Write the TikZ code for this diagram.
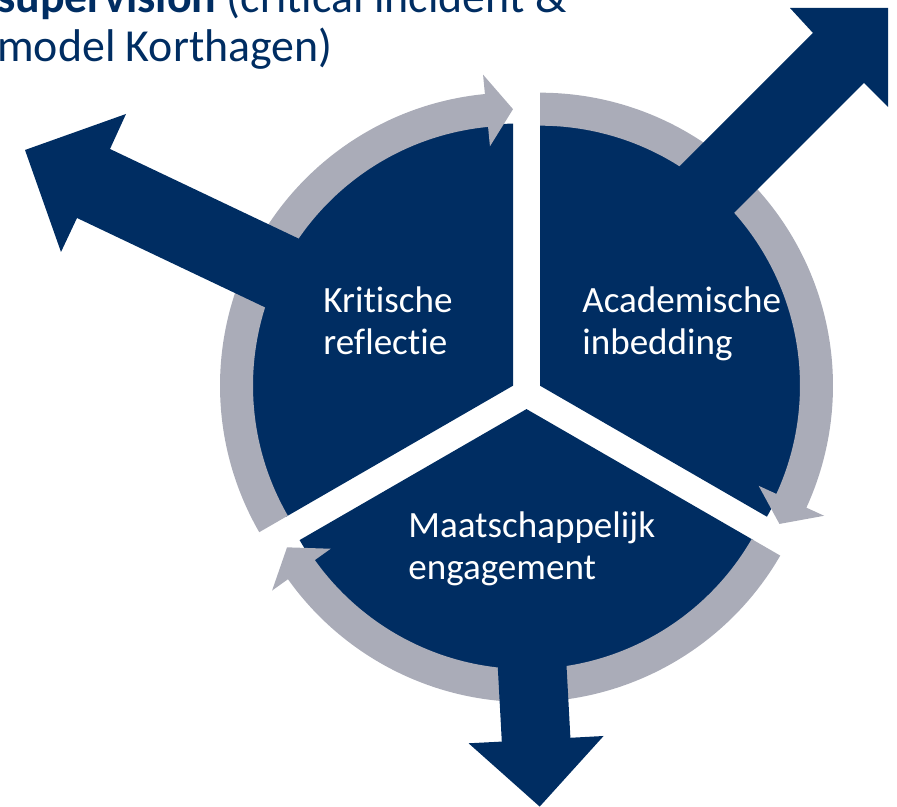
\documentclass[tikz,border=0pt]{standalone}
\usepackage{fontspec}
\setmainfont{Carlito}[Ligatures=NoCommon]
\usetikzlibrary{calc}
\definecolor{navy}{RGB}{0,45,98}
\definecolor{ringgray}{RGB}{170,172,184}
\def\rsec{262}
\def\rin{260}
\def\rout{293}
\def\rmid{276.5}
\def\headin{240.5}
\def\headout{312.5}
\def\sector(#1)(#2:#3){\fill[darkfill] (#1) -- ++(#2:\rsec) arc (#2:#3:\rsec) -- cycle;}
\def\cyclearrow(#1)(#2:#3:#4){\fill[ringfill, shift={(#1)}] (#2:\rout) arc (#2:#3:\rout) -- (#3:\headout) -- (#4:\rmid) -- (#3:\headin) -- (#3:\rin) arc (#3:#2:\rin) -- cycle;}
\tikzset{
  darkfill/.style={fill=navy},
  ringfill/.style={fill=ringgray},
  labeltext/.style={text=white, align=left, inner sep=0pt, anchor=base west, font=\fontsize{21.1pt}{24.4pt}\selectfont},
  titletext/.style={text=navy, align=left, inner sep=0pt, anchor=base west, font=\fontsize{26.1pt}{28.3pt}\selectfont}
}

\begin{document}
\begin{tikzpicture}[x=0.02cm, y=0.02cm]
	%%%%% START %%%%%
	\useasboundingbox (0,0) rectangle (897,807);
	
	\coordinate (L) at (513,421.3);
	\coordinate (R) at (540,421.3);
	\coordinate (B) at (526.5,397.9);
	
	% three pieces of the wheel
	\sector(L)(90:210)
	\sector(R)(-30:90)
	\sector(B)(210:330)
	
	% grey ring arrows, clockwise
	\cyclearrow(L)(210:95.5:90)
	\cyclearrow(R)(90:-24.6:-30)
	\cyclearrow(B)(330:215.5:210)
	
	% big arrows out of the wheel
	\fill[darkfill] (25,657) -- (126,693) -- (110,658) -- (380.9,529.3) -- (347.9,460.3) -- (77,589) -- (61,555) -- cycle;
	\fill[darkfill] (888,799) -- (790,799) -- (813,774) -- (636.2,597.2) -- (687.2,547.2) -- (864,724) -- (888,700) -- cycle;
	\fill[darkfill] (539.7,0.4) -- (603.6,71.0) -- (570.4,69.2) -- (556.4,328.8) -- (487.8,325.0) -- (501.8,65.4) -- (468.6,63.7) -- cycle;
	
	% labels (anchor sits on the last line)
	\node[labeltext] (kritisch) at (323,452) {Kritische\\reflectie};
	\node[labeltext] (academisch) at (582,452) {Academische\\inbedding};
	\node[labeltext] (maatschappelijk) at (408,227) {Maatschappelijk\\engagement};
	
	\node[titletext] (titel) at (-3,745) {\textbf{supervision} (critical incident \&\\model Korthagen)};
	%%%%% END %%%%%
\end{tikzpicture}
\end{document}
